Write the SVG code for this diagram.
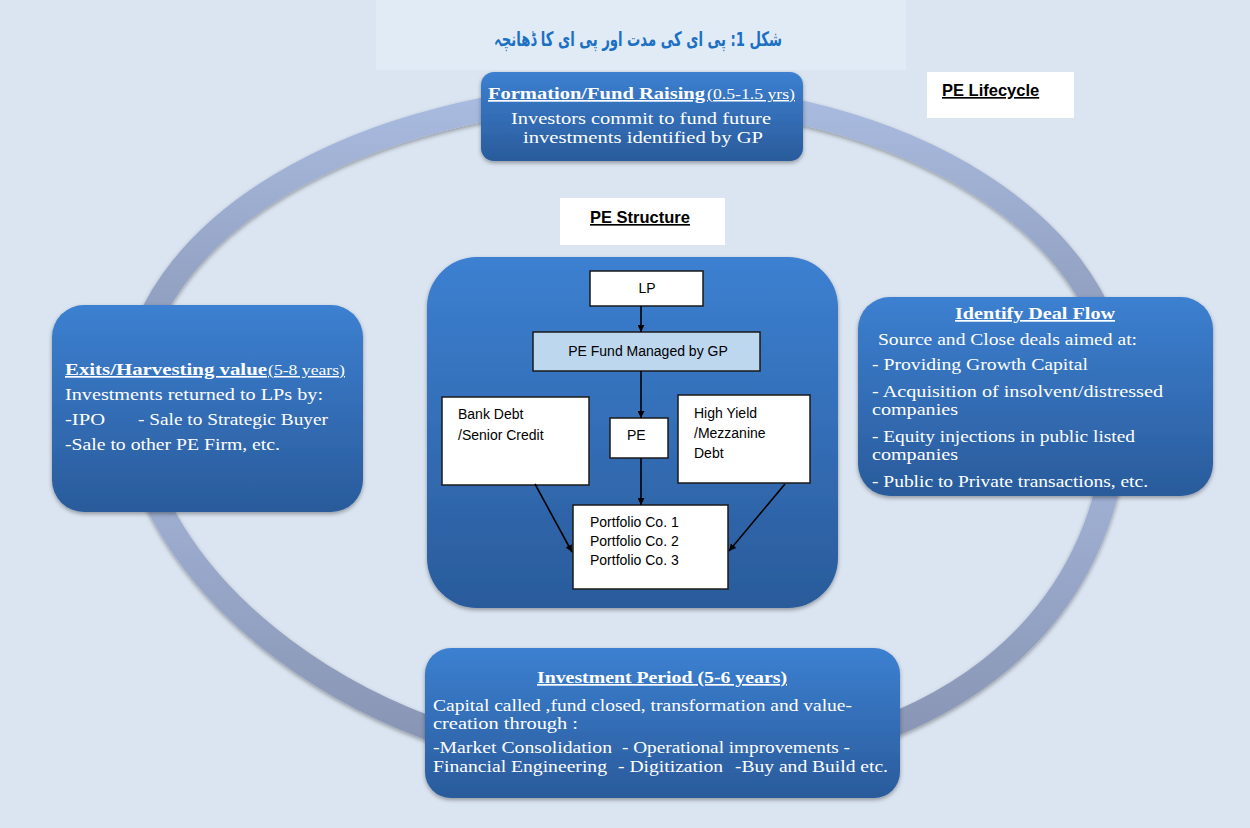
<svg xmlns="http://www.w3.org/2000/svg" width="1250" height="828" viewBox="0 0 1250 828">
<style>
.bt{fill:#fff;font-family:"Liberation Serif",serif;font-size:16px}
.bh{font-weight:bold;font-size:17px;text-decoration:underline}
.bp{font-size:15px;text-decoration:underline}
.st{fill:#000;font-family:"Liberation Sans",Arial,sans-serif;font-size:14px}
.wb{fill:#fff;stroke:#1a1a1a;stroke-width:1.5}
.lbl{fill:#000;font-family:"Liberation Sans",Arial,sans-serif;font-size:16.5px;font-weight:bold;text-decoration:underline}
.conn{stroke:#000;stroke-width:1.6;fill:none;marker-end:url(#ah)}
</style>
<defs>
<linearGradient id="blue" x1="0" y1="0" x2="0" y2="1">
<stop offset="0" stop-color="#3c80d1"/>
<stop offset="1" stop-color="#2a5b9b"/>
</linearGradient>
<linearGradient id="ringTop" gradientUnits="userSpaceOnUse" x1="0" y1="95" x2="0" y2="400">
<stop offset="0" stop-color="#a9bbe0"/>
<stop offset="1" stop-color="#8794b2"/>
</linearGradient>
<linearGradient id="ringBot" gradientUnits="userSpaceOnUse" x1="0" y1="400" x2="0" y2="765">
<stop offset="0" stop-color="#a8badf"/>
<stop offset="1" stop-color="#8692b0"/>
</linearGradient>
<filter id="sh" x="-10%" y="-10%" width="120%" height="125%">
<feDropShadow dx="0" dy="2" stdDeviation="2" flood-color="#000" flood-opacity="0.35"/>
</filter>
<marker id="ah" viewBox="0 0 10 10" refX="10" refY="5" markerWidth="7" markerHeight="7" markerUnits="userSpaceOnUse" orient="auto">
<path d="M0,0 L10,5 L0,10 z" fill="#000"/>
</marker>
</defs>

<rect x="0" y="0" width="1250" height="828" fill="#dbe5f1"/>

<g id="title">
<rect x="376" y="0" width="530" height="70" fill="#e0ebf6"/>
<text transform="translate(638,46) scale(0.66,1)" x="0" y="0" direction="rtl" text-anchor="middle" fill="#1b70c4" font-family="'DejaVu Sans',sans-serif" font-size="20" font-weight="bold">شکل 1: پی ای کی مدت اور پی ای کا ڈھانچہ</text>
</g>

<g id="ring" filter="url(#sh)">
<path d="M132,400 C132,232 359,95 640,95 C904,95 1118,230 1118,397" fill="none" stroke="url(#ringTop)" stroke-width="24"/>
<path d="M1118,397 C1118,630 930,768 650,768 C364,768 132,575 132,400" fill="none" stroke="url(#ringBot)" stroke-width="24"/>
</g>

<g id="pe-lifecycle">
<rect x="927" y="72" width="147" height="46" fill="#fff"/>
<text class="lbl" x="942" y="96">PE Lifecycle</text>
</g>

<g id="pe-structure-label">
<rect x="560" y="198" width="165" height="47" fill="#fff"/>
<text class="lbl" x="590" y="223">PE Structure</text>
</g>

<g id="formation">
<rect x="481" y="72" width="322" height="89" rx="13" fill="url(#blue)" filter="url(#sh)"/>
<text class="bt bh" x="488" y="99" textLength="217" lengthAdjust="spacingAndGlyphs">Formation/Fund Raising</text>
<text class="bt bp" x="707" y="99" textLength="88" lengthAdjust="spacingAndGlyphs">(0.5-1.5 yrs)</text>
<text class="bt" x="511" y="124" textLength="260" lengthAdjust="spacingAndGlyphs">Investors commit to  fund future</text>
<text class="bt" x="523" y="143" textLength="240" lengthAdjust="spacingAndGlyphs">investments identified by GP</text>
</g>

<g id="exits">
<rect x="52" y="305" width="311" height="207" rx="32" fill="url(#blue)" filter="url(#sh)"/>
<text class="bt bh" x="65" y="375" textLength="202" lengthAdjust="spacingAndGlyphs">Exits/Harvesting value</text>
<text class="bt bp" x="268" y="375" textLength="77" lengthAdjust="spacingAndGlyphs">(5-8 years)</text>
<text class="bt" x="65" y="400" textLength="258" lengthAdjust="spacingAndGlyphs">Investments returned to LPs  by:</text>
<text class="bt" x="65" y="425" textLength="40" lengthAdjust="spacingAndGlyphs">-IPO</text>
<text class="bt" x="138" y="425" textLength="190" lengthAdjust="spacingAndGlyphs">- Sale to Strategic Buyer</text>
<text class="bt" x="65" y="450" textLength="215" lengthAdjust="spacingAndGlyphs">-Sale to  other PE Firm, etc.</text>
</g>

<g id="deal-flow">
<rect x="858" y="297" width="355" height="199" rx="32" fill="url(#blue)" filter="url(#sh)"/>
<text class="bt bh" x="955" y="319" textLength="160" lengthAdjust="spacingAndGlyphs">Identify Deal Flow</text>
<text class="bt" x="878" y="345" textLength="259" lengthAdjust="spacingAndGlyphs">Source and Close deals  aimed at:</text>
<text class="bt" x="872" y="370" textLength="216" lengthAdjust="spacingAndGlyphs">- Providing Growth Capital</text>
<text class="bt" x="872" y="397" textLength="291" lengthAdjust="spacingAndGlyphs">- Acquisition of  insolvent/distressed</text>
<text class="bt" x="872" y="415" textLength="86" lengthAdjust="spacingAndGlyphs">companies</text>
<text class="bt" x="872" y="442" textLength="263" lengthAdjust="spacingAndGlyphs">- Equity injections in public listed</text>
<text class="bt" x="872" y="460" textLength="86" lengthAdjust="spacingAndGlyphs">companies</text>
<text class="bt" x="872" y="487" textLength="276" lengthAdjust="spacingAndGlyphs">- Public to Private transactions, etc.</text>
</g>

<g id="investment-period">
<rect x="425" y="648" width="475" height="150" rx="26" fill="url(#blue)" filter="url(#sh)"/>
<text class="bt bh" x="537" y="683" textLength="250" lengthAdjust="spacingAndGlyphs">Investment Period (5-6 years)</text>
<text class="bt" x="433" y="711" textLength="419" lengthAdjust="spacingAndGlyphs">Capital called ,fund closed, transformation and  value-</text>
<text class="bt" x="433" y="729" textLength="145" lengthAdjust="spacingAndGlyphs">creation through  :</text>
<text class="bt" x="433" y="753" textLength="179" lengthAdjust="spacingAndGlyphs">-Market Consolidation</text>
<text class="bt" x="622" y="753" textLength="228" lengthAdjust="spacingAndGlyphs">- Operational improvements -</text>
<text class="bt" x="433" y="772" textLength="174" lengthAdjust="spacingAndGlyphs">Financial Engineering</text>
<text class="bt" x="618" y="772" textLength="105" lengthAdjust="spacingAndGlyphs">- Digitization</text>
<text class="bt" x="735" y="772" textLength="153" lengthAdjust="spacingAndGlyphs">-Buy and Build etc.</text>
</g>

<g id="structure">
<rect x="427" y="257" width="411" height="351" rx="50" fill="url(#blue)" filter="url(#sh)"/>
</g>

<g id="lp">
<rect class="wb" x="590" y="271" width="113" height="35"/>
<text class="st" x="647" y="293" text-anchor="middle">LP</text>
</g>
<g id="fund">
<rect x="533" y="332" width="227" height="39" fill="#bdd7ee" stroke="#1a1a1a" stroke-width="1.5"/>
<text class="st" x="648" y="356" text-anchor="middle">PE Fund Managed by GP</text>
</g>
<g id="bank-debt">
<rect class="wb" x="442" y="397" width="147" height="88"/>
<text class="st" x="458" y="419">Bank Debt</text>
<text class="st" x="458" y="440">/Senior Credit</text>
</g>
<g id="pe">
<rect class="wb" x="610" y="418" width="58" height="40"/>
<text class="st" x="627" y="440">PE</text>
</g>
<g id="high-yield">
<rect class="wb" x="678" y="395" width="132" height="88"/>
<text class="st" x="694" y="418">High Yield</text>
<text class="st" x="694" y="438">/Mezzanine</text>
<text class="st" x="694" y="458">Debt</text>
</g>
<g id="portfolio">
<rect class="wb" x="573" y="505" width="155" height="84"/>
<text class="st" x="590" y="527">Portfolio Co. 1</text>
<text class="st" x="590" y="546">Portfolio Co. 2</text>
<text class="st" x="590" y="565">Portfolio Co. 3</text>
</g>

<g id="connectors">
<line class="conn" x1="641" y1="306" x2="641" y2="332"/>
<line class="conn" x1="641" y1="371" x2="641" y2="418"/>
<line class="conn" x1="641" y1="458" x2="641" y2="505"/>
<line class="conn" x1="535" y1="484" x2="572" y2="552"/>
<line class="conn" x1="785" y1="484" x2="729" y2="551"/>
</g>
</svg>
